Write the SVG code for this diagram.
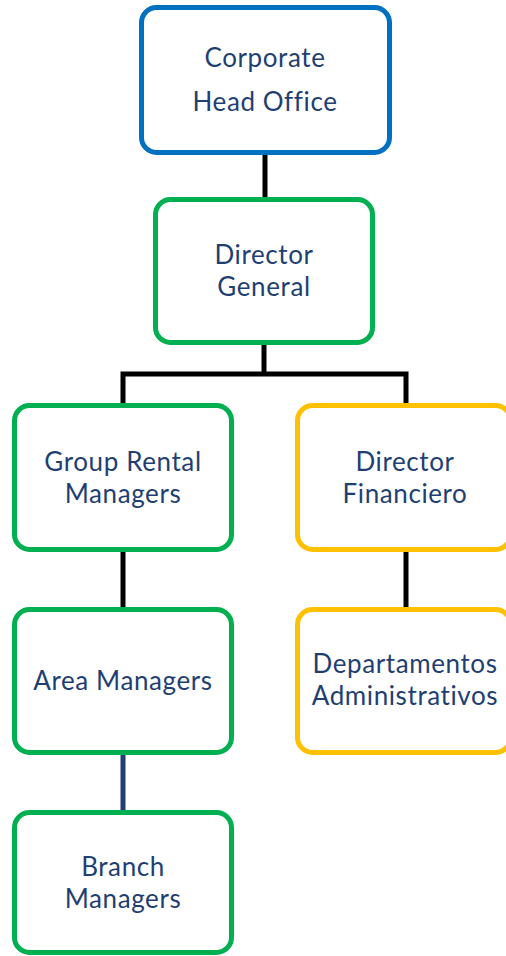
<svg xmlns="http://www.w3.org/2000/svg" width="506" height="956" viewBox="0 0 506 956">
  <style>
    .box { fill: #ffffff; stroke-width: 5; }
    .blue { stroke: #0070C0; }
    .green { stroke: #00B050; }
    .gold { stroke: #FFC000; }
    .lbl { font-family: "Lato", "Open Sans", "Liberation Sans", sans-serif; font-size: 26px; letter-spacing: 0.6px; fill: #1F3F73; text-anchor: middle; }
    .link { stroke: #000000; stroke-width: 5; fill: none; }
    .link-navy { stroke: #1F3F73; stroke-width: 5; fill: none; }
  </style>
  <rect width="506" height="956" fill="#ffffff"/>

  <g id="connectors">
    <line class="link" x1="265" y1="153" x2="265" y2="199"/>
    <line class="link" x1="264" y1="343" x2="264" y2="374"/>
    <polyline class="link" points="123,405 123,374 406,374 406,405"/>
    <line class="link" x1="123" y1="550" x2="123" y2="609"/>
    <line class="link" x1="406" y1="550" x2="406" y2="609"/>
    <line class="link-navy" x1="123" y1="753" x2="123" y2="812"/>
  </g>

  <g id="corporate-head-office">
    <rect class="box blue" x="141.5" y="7.5" width="248" height="145" rx="15"/>
    <text class="lbl" x="265" y="67">Corporate</text>
    <text class="lbl" x="265" y="111">Head Office</text>
  </g>

  <g id="director-general">
    <rect class="box green" x="155.5" y="199.5" width="217" height="143" rx="15"/>
    <text class="lbl" x="264" y="264">Director</text>
    <text class="lbl" x="264" y="296">General</text>
  </g>

  <g id="group-rental-managers">
    <rect class="box green" x="14.5" y="405.5" width="217" height="144" rx="15"/>
    <text class="lbl" x="123" y="471">Group Rental</text>
    <text class="lbl" x="123" y="503">Managers</text>
  </g>

  <g id="director-financiero">
    <rect class="box gold" x="297.5" y="405.5" width="213" height="144" rx="15"/>
    <text class="lbl" x="405" y="471">Director</text>
    <text class="lbl" x="405" y="503">Financiero</text>
  </g>

  <g id="area-managers">
    <rect class="box green" x="14.5" y="609.5" width="217" height="143" rx="15"/>
    <text class="lbl" x="123" y="690">Area Managers</text>
  </g>

  <g id="departamentos-administrativos">
    <rect class="box gold" x="297.5" y="609.5" width="213" height="143" rx="15"/>
    <text class="lbl" x="405" y="673">Departamentos</text>
    <text class="lbl" x="405" y="705">Administrativos</text>
  </g>

  <g id="branch-managers">
    <rect class="box green" x="14.5" y="812.5" width="217" height="140" rx="15"/>
    <text class="lbl" x="123" y="876">Branch</text>
    <text class="lbl" x="123" y="908">Managers</text>
  </g>
</svg>
